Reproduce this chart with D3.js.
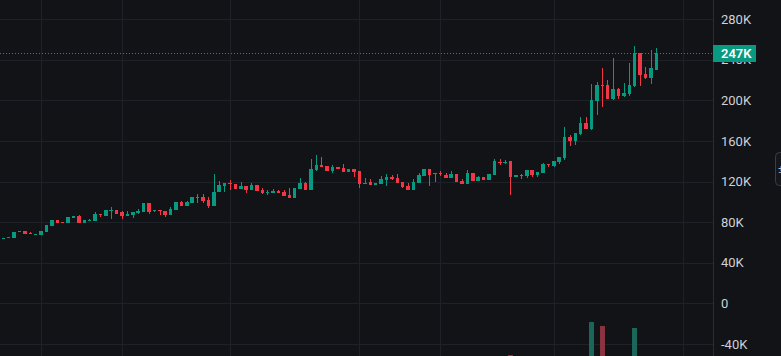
<!DOCTYPE html>
<html><head><meta charset="utf-8">
<script src="https://cdn.jsdelivr.net/npm/d3@7"></script>
<style>html,body{margin:0;padding:0;background:#121317;overflow:hidden}svg{display:block}</style>
</head><body><svg id="c" width="781" height="356"></svg>
<script>
// prices in thousands (K)
const openK = [64.0,64.2,64.8,70.8,71.3,69.6,68.0,67.3,70.2,76.2,
82.1,80.4,79.2,84.1,86.1,79.2,81.8,81.1,88.0,86.1,
91.8,92.0,89.7,86.1,87.0,89.0,90.0,98.9,91.0,92.0,
91.0,87.0,92.0,99.8,95.9,98.9,104.8,104.8,101.8,95.9,
109.7,115.6,118.8,117.6,112.6,115.6,111.7,116.6,111.7,109.4,
108.7,111.0,109.7,106.7,103.8,112.6,118.5,111.7,131.3,136.3,
135.3,130.3,134.3,133.3,129.4,132.3,130.3,117.6,119.5,116.6,
117.6,121.5,124.4,123.4,119.5,115.6,111.7,118.5,125.4,132.3,
128.3,128.3,126.4,123.4,127.4,120.5,117.6,128.3,120.5,124.4,
121.5,126.4,139.2,138.8,140.2,124.4,126.4,125.4,131.3,126.4,
128.3,137.3,135.3,139.2,143.2,163.8,159.9,166.8,177.6,171.7,
199.3,215.0,215.0,201.2,211.1,204.2,206.2,214.1,246.5,226.0,
222.1,230.1];
const highK = [64.8,65.8,70.5,71.7,71.5,69.8,68.8,71.5,77.5,82.4,
82.3,80.6,85.4,86.3,87.0,82.4,82.6,90.0,88.2,92.3,
94.9,92.2,91.0,91.0,90.2,92.9,99.2,99.2,92.2,92.2,
91.2,94.9,100.1,100.8,100.8,105.1,107.7,107.7,104.8,127.4,
120.5,118.8,121.5,117.9,119.5,115.9,118.5,116.9,113.6,111.7,
112.6,112.0,111.7,113.6,113.9,123.4,119.5,142.2,146.1,144.1,
135.5,136.3,134.5,137.3,132.5,132.5,130.5,123.4,122.5,118.7,
125.4,127.4,126.4,127.4,119.7,118.5,122.5,128.3,132.5,132.5,
128.5,130.3,128.3,130.3,127.6,122.5,131.3,128.5,125.4,124.6,
127.6,142.2,142.2,141.2,140.4,126.6,127.4,131.5,131.5,129.6,
138.3,137.5,140.4,144.3,173.7,165.8,168.0,183.5,183.5,216.0,
217.9,232.1,219.9,241.6,212.1,216.9,236.7,253.4,246.7,232.9,
249.5,251.4];
const lowK = [63.8,64.0,64.5,70.6,68.1,68.8,67.8,67.1,70.0,76.0,
79.0,79.6,79.0,83.9,79.0,79.0,81.6,80.9,85.1,85.9,
83.1,87.8,83.1,85.9,84.1,88.0,89.8,88.0,90.0,87.0,
85.1,86.8,91.8,95.7,95.7,98.7,98.9,98.9,93.9,95.7,
109.5,110.0,111.7,112.4,112.4,108.7,111.5,110.5,107.7,106.7,
108.5,108.4,105.5,103.6,103.6,112.4,111.5,111.5,130.3,134.1,
130.1,128.3,132.1,129.2,129.2,124.4,113.6,117.4,116.4,116.4,
117.4,115.6,121.5,118.3,113.6,111.5,111.5,118.3,125.2,115.6,
119.5,125.4,123.2,123.2,119.3,117.4,117.4,120.3,120.3,121.3,
121.3,126.2,136.3,137.3,106.7,124.2,122.5,123.4,124.4,124.4,
128.1,134.3,134.3,137.3,141.2,154.9,155.9,165.8,171.5,171.0,
185.5,193.4,201.0,200.5,201.2,203.2,204.2,213.5,214.1,221.0,
216.0,229.9];
const closeK = [64.6,65.6,70.2,71.5,68.3,69.0,68.6,71.3,77.2,82.1,
79.2,79.8,85.1,86.1,79.2,82.1,82.4,88.0,87.0,92.0,
92.3,88.0,86.1,88.0,90.0,91.0,98.9,90.0,92.0,91.0,
87.0,92.9,99.8,95.9,99.8,104.8,103.8,100.8,95.9,109.7,
116.6,118.5,117.9,112.6,115.6,111.7,116.6,110.7,108.7,109.9,
110.7,108.7,105.7,103.8,113.6,118.5,111.7,132.3,136.3,134.3,
130.3,134.3,132.3,129.4,132.3,129.4,117.6,118.5,116.6,118.5,
122.5,124.4,122.5,118.5,114.6,111.7,119.5,126.4,132.3,126.4,
127.4,127.4,123.4,127.4,119.5,117.6,128.3,120.5,124.4,121.5,
127.4,140.2,138.3,139.3,124.4,126.4,125.4,131.3,126.4,129.4,
137.3,136.3,140.2,144.1,163.8,159.9,167.8,177.6,171.7,200.3,
215.0,214.1,201.2,211.1,204.2,207.2,215.0,246.5,225.0,222.1,
232.1,246.5];
const volume = [12,10,18,9,14,8,9,15,20,22,
14,9,18,12,22,13,8,24,11,19,
16,14,17,12,13,11,21,23,9,10,
14,17,20,13,12,18,16,15,19,38,
26,15,14,17,12,15,14,18,13,10,
11,12,16,17,22,24,19,36,28,18,
17,14,11,15,10,14,27,15,13,10,
16,15,12,18,19,17,21,22,24,25,
14,12,13,15,20,13,24,19,12,11,
16,30,18,14,45.5,13,11,17,16,12,
20,12,17,19,40,26,28,33,30,78,
42,74,38,40,27,24,39,72,42,25,
35,30];
const yTicks = [280,240,200,160,120,80,40,0,-40];
const timeGridIdx = [7,22,42,66,81,102,126];

const W = 781, H = 356, axisX = 713;
const UP = '#089981', DOWN = '#f23645';
const svg = d3.select('#c');
svg.append('rect').attr('width', W).attr('height', H).attr('fill', '#121317');

const x = d3.scaleLinear().domain([0, 121]).range([3.3, 656.3]);
const y = d3.scaleLinear().domain([-40, 280]).range([344, 19]);
const yv = d3.scaleLinear().domain([0, 100]).range([400, 300]);

const data = closeK.map((c, i) => ({i, o: openK[i], h: highK[i], l: lowK[i], c, v: volume[i]}));

// grid
const grid = svg.append('g').attr('shape-rendering', 'crispEdges');
grid.selectAll('line.h').data(yTicks).join('line').attr('class', 'h')
  .attr('x1', 0).attr('x2', axisX)
  .attr('y1', d => Math.round(y(d)) + 0.5).attr('y2', d => Math.round(y(d)) + 0.5)
  .attr('stroke', '#1f2128');
grid.selectAll('line.v').data(timeGridIdx).join('line').attr('class', 'v')
  .attr('y1', 0).attr('y2', H)
  .attr('x1', d => Math.round(x(d)) + 0.5).attr('x2', d => Math.round(x(d)) + 0.5)
  .attr('stroke', '#1f2128');

// volume
svg.append('g').attr('shape-rendering', 'crispEdges')
  .selectAll('rect').data(data).join('rect')
  .attr('x', d => Math.round(x(d.i) - 2.25))
  .attr('width', d => Math.round(x(d.i) + 2.25) - Math.round(x(d.i) - 2.25))
  .attr('y', d => yv(d.v))
  .attr('height', d => yv(0) - yv(d.v))
  .attr('fill', d => d.c >= d.o ? '#1b6658' : '#8a3340');

// last price line
const last = data[data.length - 1];
svg.append('line').attr('x1', 0).attr('x2', axisX)
  .attr('y1', Math.round(y(last.c)) + 0.5).attr('y2', Math.round(y(last.c)) + 0.5)
  .attr('stroke', UP).attr('stroke-dasharray', '1,2').attr('shape-rendering', 'crispEdges');

// candles
const cg = svg.append('g').attr('shape-rendering', 'crispEdges');
const cand = cg.selectAll('g').data(data).join('g');
cand.append('rect')
  .attr('x', d => { const L = Math.round(x(d.i) - 1.75), R = Math.round(x(d.i) + 1.75); return L + Math.floor((R - L) / 2); })
  .attr('width', 1)
  .attr('y', d => Math.round(y(d.h)))
  .attr('height', d => Math.max(1, Math.round(y(d.l)) - Math.round(y(d.h))))
  .attr('fill', d => d.c >= d.o ? UP : DOWN);
cand.append('rect')
  .attr('x', d => Math.round(x(d.i) - 1.75))
  .attr('width', d => Math.round(x(d.i) + 1.75) - Math.round(x(d.i) - 1.75))
  .attr('y', d => Math.round(y(Math.max(d.o, d.c))))
  .attr('height', d => Math.max(1, Math.round(y(Math.min(d.o, d.c))) - Math.round(y(Math.max(d.o, d.c)))))
  .attr('fill', d => d.c >= d.o ? UP : DOWN);

// right axis
svg.append('rect').attr('x', axisX).attr('y', 0).attr('width', W - axisX).attr('height', H).attr('fill', '#121317');
svg.append('line').attr('x1', axisX + 0.5).attr('x2', axisX + 0.5).attr('y1', 0).attr('y2', H)
  .attr('stroke', '#2a2d35').attr('shape-rendering', 'crispEdges');
const ax = svg.append('g').attr('transform', `translate(${axisX},0)`)
  .call(d3.axisRight(y).tickValues(yTicks).tickSize(0).tickPadding(8)
    .tickFormat(d => d === 0 ? '0' : d + 'K'));
ax.select('.domain').remove();
ax.selectAll('text').attr('fill', '#cfd1d6').style('font-family', 'Roboto, sans-serif').style('font-size', '13px');

// last price label
const ly = y(last.c);
svg.append('rect').attr('x', axisX).attr('y', Math.round(ly - 8.5)).attr('width', 43).attr('height', 17).attr('fill', UP);
svg.append('text').attr('x', axisX + 8).attr('y', ly).attr('dy', '0.35em')
  .attr('fill', '#ffffff').style('font-family', 'Roboto, sans-serif').style('font-size', '13px').style('font-weight', '600')
  .text(Math.round(last.c) + 'K');

// edge widget
svg.append('rect').attr('x', 775.5).attr('y', 152.5).attr('width', 24).attr('height', 33).attr('rx', 4)
  .attr('fill', '#16171c').attr('stroke', '#3a3d46');
svg.append('text').attr('x', 778).attr('y', 173).attr('fill', '#b2b5be')
  .style('font-family', 'Roboto, sans-serif').style('font-size', '11px').text('±');
</script></body></html>
